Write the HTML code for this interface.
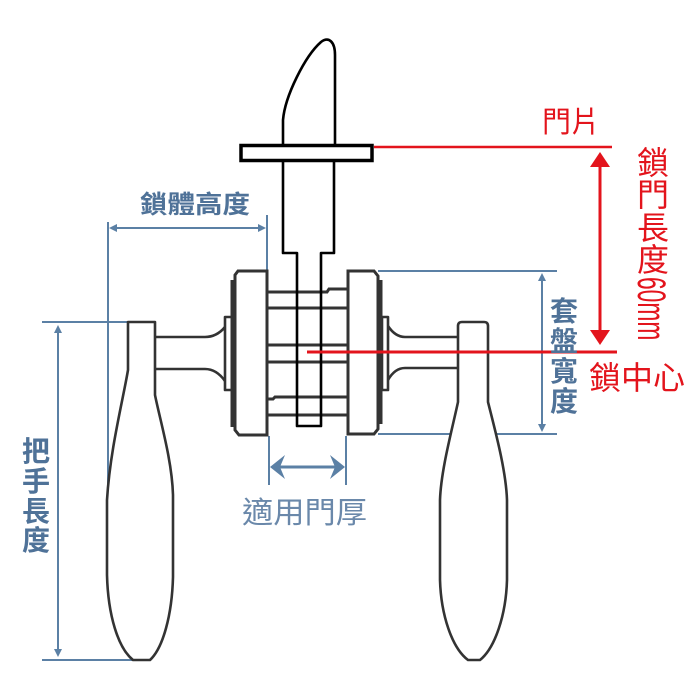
<!DOCTYPE html>
<html>
<head>
<meta charset="utf-8">
<style>
  html,body{margin:0;padding:0;background:#fff;}
  svg{display:block;}
  .cjk{font-family:"Liberation Sans","Noto Sans CJK TC","Noto Sans CJK SC",sans-serif;}
</style>
</head>
<body>
<svg width="700" height="700" viewBox="0 0 700 700" xmlns="http://www.w3.org/2000/svg">
  <rect width="700" height="700" fill="#fff"/>

  <!-- ===== Blue dimension lines ===== -->
  <g stroke="#5b80a5" stroke-width="2" fill="none">
    <!-- 鎖體高度 -->
    <line x1="108" y1="222" x2="108" y2="503"/>
    <line x1="267" y1="215" x2="267" y2="271"/>
    <line x1="112" y1="228" x2="263" y2="228"/>
    <!-- 把手長度 -->
    <line x1="42" y1="322" x2="128" y2="322"/>
    <line x1="42" y1="660" x2="135" y2="660"/>
    <line x1="58" y1="328" x2="58" y2="654"/>
    <!-- 套盤寬度 -->
    <line x1="378" y1="271" x2="557" y2="271"/>
    <line x1="378" y1="434" x2="557" y2="434"/>
    <line x1="542" y1="276" x2="542" y2="429"/>
    <!-- 適用門厚 -->
    <line x1="269" y1="436" x2="269" y2="485"/>
    <line x1="346" y1="436" x2="346" y2="485"/>
    <line x1="274" y1="467" x2="341" y2="467" stroke-width="3"/>
  </g>
  <g fill="#5b80a5">
    <polygon points="109,228 117,224 117,232"/>
    <polygon points="266,228 258,224 258,232"/>
    <polygon points="58,325 54,333 62,333"/>
    <polygon points="58,657 54,649 62,649"/>
    <polygon points="542,273 538,281 546,281"/>
    <polygon points="542,432 538,424 546,424"/>
    <polygon points="270,467 285,455 280,467 285,479"/>
    <polygon points="345,467 330,455 335,467 330,479"/>
  </g>

  <!-- ===== Handles (dark gray) ===== -->
  <g stroke="#333" stroke-width="2.6" fill="none" stroke-linejoin="round">
    <!-- left handle -->
    <path d="M128,322 L155,322 L155,395 C160,420 172,460 173,495 L173,577 C172,615 163,648 150,660 L133,660 C118,648 108,615 107,575 L107,500 C110,450 123,400 128,370 Z" fill="#fff"/>
    <!-- left neck -->
    <path d="M156,337 L205,337 C214,337 220,333 225,327"/>
    <path d="M156,369 L205,369 C214,369 220,374 225,381"/>
    <rect x="225" y="317" width="8" height="73" fill="#fff"/>

    <!-- right handle -->
    <path d="M462,322 L484,322 Q488,322 488,326 L488,402 C495,430 506,470 507,500 L507,580 C506,615 495,648 480,660 L468,660 C452,648 441,615 440,580 L440,500 C441,470 452,430 458,402 L458,326 Q458,322 462,322 Z" fill="#fff"/>
    <!-- right neck -->
    <path d="M457,337 L405,337 C397,337 392,332 388,326"/>
    <path d="M457,368 L405,368 C397,368 392,373 388,380"/>
    <rect x="382" y="317" width="6" height="73" fill="#fff"/>
  </g>

  <!-- ===== Rosettes & cylinder ===== -->
  <g stroke="#333" stroke-width="3" fill="none">
    <!-- left rosette -->
    <path d="M267,271 L238,271 L235,275 L235,430 L239,435 L267,435 Z" fill="#fff"/>
    <line x1="232" y1="280" x2="232" y2="427" stroke-width="3"/>
    <!-- right rosette -->
    <path d="M348,271 L374,271 L378,276 L378,429 L374,434 L348,434 Z" fill="#fff"/>
    <line x1="381" y1="280" x2="381" y2="424" stroke-width="3"/>
    <!-- cylinder rings -->
    <path d="M267,292 L327,292 L329,289 L348,289"/>
    <line x1="267" y1="308" x2="348" y2="308"/>
    <line x1="267" y1="345" x2="348" y2="345"/>
    <line x1="267" y1="362" x2="348" y2="362"/>
    <path d="M267,399 L273,399 L275,397 L348,397"/>
    <line x1="267" y1="415" x2="348" y2="415"/>
  </g>

  <!-- ===== Spindle, blade, door plate (black) ===== -->
  <g stroke="#000" stroke-width="2.6" fill="none" stroke-linejoin="round">
    <path d="M283,161 L283,253 L297,253 L297,426 L321,426 L321,253 L334,253 L334,161"/>
    <path d="M283,146 L283,120 C285,96 305,56 321,42 C329,36 335,42 335,55 L335,146"/>
  </g>
  <rect x="241" y="145.5" width="131" height="15" fill="#fff" stroke="#000" stroke-width="3.5"/>

  <!-- ===== Red lines ===== -->
  <g stroke="#e3141c" fill="none">
    <line x1="374" y1="147" x2="612" y2="147" stroke-width="2.5"/>
    <line x1="307" y1="352" x2="617" y2="352" stroke-width="3"/>
    <line x1="600" y1="162" x2="600" y2="336" stroke-width="3"/>
  </g>
  <g fill="#e3141c">
    <polygon points="600,152 590,167 610,167"/>
    <polygon points="600,345 590,330 610,330"/>
  </g>

  <!-- ===== Red text ===== -->
  <g class="cjk" fill="#e3141c">
    <text x="542" y="132" font-size="29" textLength="58" lengthAdjust="spacingAndGlyphs">門片</text>
    <text x="589" y="389" font-size="32" textLength="96" lengthAdjust="spacingAndGlyphs">鎖中心</text>
    <g font-size="32" text-anchor="middle">
      <text x="653" y="174">鎖</text>
      <text x="653" y="206">門</text>
      <text x="653" y="239">長</text>
      <text x="653" y="271">度</text>
    </g>
    <text font-family="Liberation Sans, sans-serif" font-size="40" transform="translate(638,277) rotate(90) scale(0.57,1)">60mm</text>
  </g>

  <!-- ===== Blue text ===== -->
  <g class="cjk" fill="#4f7298" font-weight="bold">
    <text x="140" y="213" font-size="25" textLength="110" lengthAdjust="spacingAndGlyphs">鎖體高度</text>
    <g font-size="28" text-anchor="middle">
      <text x="36" y="461">把</text>
      <text x="36" y="491">手</text>
      <text x="36" y="521">長</text>
      <text x="36" y="550">度</text>
    </g>
    <g font-size="28" text-anchor="middle">
      <text x="564" y="321">套</text>
      <text x="564" y="351">盤</text>
      <text x="564" y="381">寬</text>
      <text x="564" y="411">度</text>
    </g>
  </g>
  <text class="cjk" x="242" y="523" font-size="30" fill="#6a88aa" textLength="125" lengthAdjust="spacingAndGlyphs">適用門厚</text>
</svg>
</body>
</html>
